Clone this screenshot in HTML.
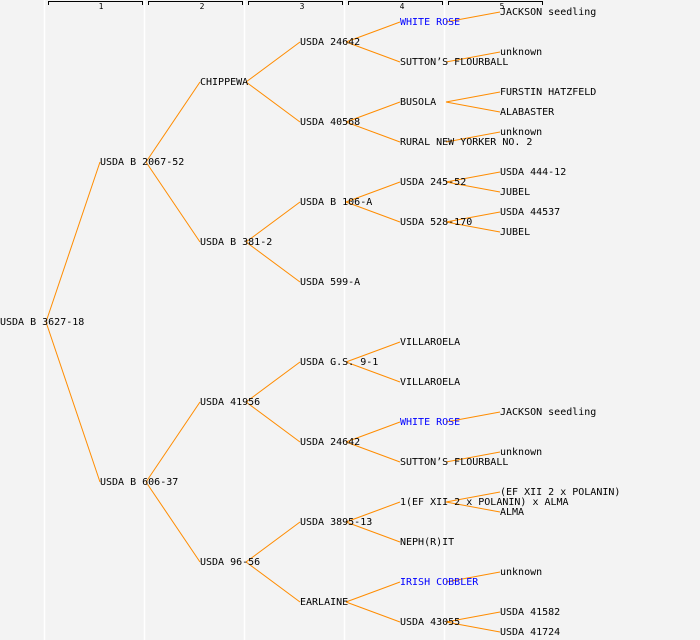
<!DOCTYPE html>
<html><head><meta charset="utf-8"><style>
html,body{margin:0;padding:0;background:#f3f3f3;}
svg{display:block}
text{font-family:"DejaVu Sans Mono","Liberation Mono",monospace;font-size:10px;fill:#000}
.b{fill:#0000ff}
.h{font-size:8px}
</style></head><body>
<svg width="700" height="640" viewBox="0 0 700 640" xmlns="http://www.w3.org/2000/svg">
<rect width="700" height="640" fill="#f3f3f3"/>
<g stroke="#ffffff" stroke-width="1.5">
<line x1="44.5" y1="0" x2="44.5" y2="640"/><line x1="144.5" y1="0" x2="144.5" y2="640"/>
<line x1="244.5" y1="0" x2="244.5" y2="640"/><line x1="344.5" y1="0" x2="344.5" y2="640"/>
<line x1="444.5" y1="0" x2="444.5" y2="640"/>
</g>
<g stroke="#000" stroke-width="1" fill="none">
<path d="M48.5 5V1.5H142.5V5"/><path d="M148.5 5V1.5H242.5V5"/><path d="M248.5 5V1.5H342.5V5"/><path d="M348.5 5V1.5H442.5V5"/><path d="M448.5 5V1.5H542.5V5"/>
</g>
<g><text class="h" x="101" y="9" text-anchor="middle">1</text><text class="h" x="202" y="9" text-anchor="middle">2</text><text class="h" x="302" y="9" text-anchor="middle">3</text><text class="h" x="402" y="9" text-anchor="middle">4</text><text class="h" x="502" y="9" text-anchor="middle">5</text></g>
<g stroke="#ff8c00" stroke-width="1" fill="none">
<line x1="46" y1="322" x2="100" y2="162"/><line x1="46" y1="322" x2="100" y2="482"/>
<line x1="146" y1="162" x2="200" y2="82"/><line x1="146" y1="162" x2="200" y2="242"/>
<line x1="146" y1="482" x2="200" y2="402"/><line x1="146" y1="482" x2="200" y2="562"/>
<line x1="246" y1="82" x2="300" y2="42"/><line x1="246" y1="82" x2="300" y2="122"/>
<line x1="246" y1="242" x2="300" y2="202"/><line x1="246" y1="242" x2="300" y2="282"/>
<line x1="246" y1="402" x2="300" y2="362"/><line x1="246" y1="402" x2="300" y2="442"/>
<line x1="246" y1="562" x2="300" y2="522"/><line x1="246" y1="562" x2="300" y2="602"/>
<line x1="346" y1="42" x2="400" y2="22"/><line x1="346" y1="42" x2="400" y2="62"/>
<line x1="346" y1="122" x2="400" y2="102"/><line x1="346" y1="122" x2="400" y2="142"/>
<line x1="346" y1="202" x2="400" y2="182"/><line x1="346" y1="202" x2="400" y2="222"/>
<line x1="346" y1="362" x2="400" y2="342"/><line x1="346" y1="362" x2="400" y2="382"/>
<line x1="346" y1="442" x2="400" y2="422"/><line x1="346" y1="442" x2="400" y2="462"/>
<line x1="346" y1="522" x2="400" y2="502"/><line x1="346" y1="522" x2="400" y2="542"/>
<line x1="346" y1="602" x2="400" y2="582"/><line x1="346" y1="602" x2="400" y2="622"/>
<line x1="446" y1="22" x2="500" y2="12"/><line x1="446" y1="62" x2="500" y2="52"/>
<line x1="446" y1="102" x2="500" y2="92"/><line x1="446" y1="102" x2="500" y2="112"/>
<line x1="446" y1="142" x2="500" y2="132"/>
<line x1="446" y1="182" x2="500" y2="172"/><line x1="446" y1="182" x2="500" y2="192"/>
<line x1="446" y1="222" x2="500" y2="212"/><line x1="446" y1="222" x2="500" y2="232"/>
<line x1="446" y1="422" x2="500" y2="412"/><line x1="446" y1="462" x2="500" y2="452"/>
<line x1="446" y1="502" x2="500" y2="492"/><line x1="446" y1="502" x2="500" y2="512"/>
<line x1="446" y1="582" x2="500" y2="572"/>
<line x1="446" y1="622" x2="500" y2="612"/><line x1="446" y1="622" x2="500" y2="632"/>
</g>
<g transform="translate(0,-1)">
<text x="0" y="326">USDA B 3627-18</text>
<text x="100" y="166">USDA B 2067-52</text>
<text x="100" y="486">USDA B 606-37</text>
<text x="200" y="86">CHIPPEWA</text>
<text x="200" y="246">USDA B 381-2</text>
<text x="200" y="406">USDA 41956</text>
<text x="200" y="566">USDA 96-56</text>
<text x="300" y="46">USDA 24642</text>
<text x="300" y="126">USDA 40568</text>
<text x="300" y="206">USDA B 106-A</text>
<text x="300" y="286">USDA 599-A</text>
<text x="300" y="366">USDA G.S. 9-1</text>
<text x="300" y="446">USDA 24642</text>
<text x="300" y="526">USDA 3895-13</text>
<text x="300" y="606">EARLAINE</text>
<text class="b" x="400" y="26">WHITE ROSE</text>
<text x="400" y="66">SUTTON’S FLOURBALL</text>
<text x="400" y="106">BUSOLA</text>
<text x="400" y="146">RURAL NEW YORKER NO. 2</text>
<text x="400" y="186">USDA 245-52</text>
<text x="400" y="226">USDA 528-170</text>
<text x="400" y="346">VILLAROELA</text>
<text x="400" y="386">VILLAROELA</text>
<text class="b" x="400" y="426">WHITE ROSE</text>
<text x="400" y="466">SUTTON’S FLOURBALL</text>
<text x="400" y="506">1(EF XII 2 x POLANIN) x ALMA</text>
<text x="400" y="546">NEPH(R)IT</text>
<text class="b" x="400" y="586">IRISH COBBLER</text>
<text x="400" y="626">USDA 43055</text>
<text x="500" y="16">JACKSON seedling</text>
<text x="500" y="56">unknown</text>
<text x="500" y="96">FURSTIN HATZFELD</text>
<text x="500" y="116">ALABASTER</text>
<text x="500" y="136">unknown</text>
<text x="500" y="176">USDA 444-12</text>
<text x="500" y="196">JUBEL</text>
<text x="500" y="216">USDA 44537</text>
<text x="500" y="236">JUBEL</text>
<text x="500" y="416">JACKSON seedling</text>
<text x="500" y="456">unknown</text>
<text x="500" y="496">(EF XII 2 x POLANIN)</text>
<text x="500" y="516">ALMA</text>
<text x="500" y="576">unknown</text>
<text x="500" y="616">USDA 41582</text>
<text x="500" y="636">USDA 41724</text>
</g>
</svg>
</body></html>
